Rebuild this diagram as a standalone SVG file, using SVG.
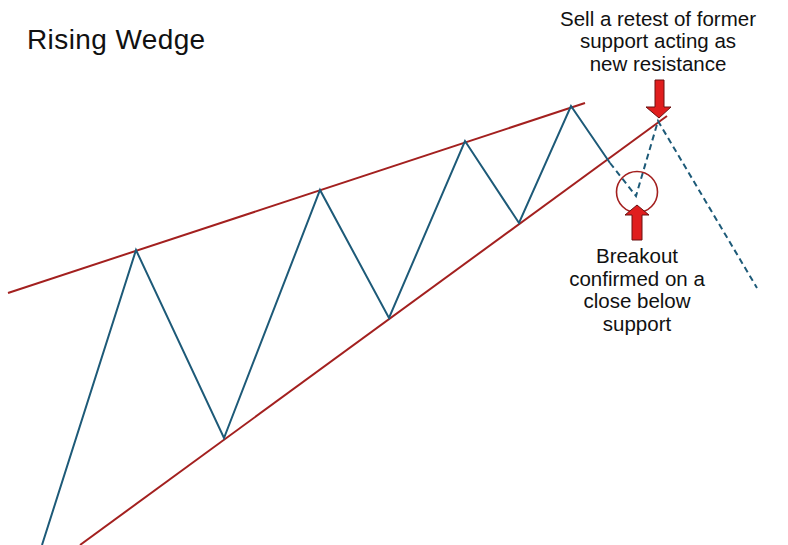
<svg xmlns="http://www.w3.org/2000/svg" width="788" height="545" viewBox="0 0 788 545">
<defs>
<style>
.t{font-family:"Liberation Sans",Arial,sans-serif;fill:#111;text-anchor:middle;font-size:20.5px}
.red{stroke:#a3201f;stroke-width:2;fill:none}
.blue{stroke:#1d5a78;stroke-width:2;fill:none;stroke-linejoin:miter}
.dash{stroke:#1d5a78;stroke-width:2;fill:none;stroke-dasharray:6,4}
.arr{fill:#e01e1e;stroke:#6a1010;stroke-width:1}
</style>
</defs>
<rect width="788" height="545" fill="#fff"/>
<text id="title" x="27" y="49" font-family="'Liberation Sans',Arial,sans-serif" font-size="28" letter-spacing="0.4" fill="#111">Rising Wedge</text>
<g id="connectors">
<line class="red" x1="8" y1="293" x2="585" y2="103"/>
<line class="red" x1="80" y1="545" x2="667" y2="116"/>
<polyline class="blue" points="42,545 136,250 224,438 320,190 389,318 465,141 519,223 571,106 610,163"/>
<polyline class="dash" points="610,163 636,196 658,121 757,288"/>
</g>
<g id="breakout-marker">
<circle cx="637" cy="192" r="20.5" fill="none" stroke="#a3201f" stroke-width="1.6"/>
<polygon class="arr" points="637,205 649,215 642,215 642,240 632,240 632,215 625,215"/>
</g>
<g id="retest-marker">
<polygon class="arr" points="659,118 671,107 664,107 664,80 655,80 655,107 646,107"/>
</g>
<g id="sell-label">
<text class="t" x="658" y="26">Sell a retest of former</text>
<text class="t" x="658" y="48">support acting as</text>
<text class="t" x="658" y="71">new resistance</text>
</g>
<g id="breakout-label">
<text class="t" x="637" y="263">Breakout</text>
<text class="t" x="637" y="286">confirmed on a</text>
<text class="t" x="637" y="308">close below</text>
<text class="t" x="637" y="331">support</text>
</g>
</svg>
